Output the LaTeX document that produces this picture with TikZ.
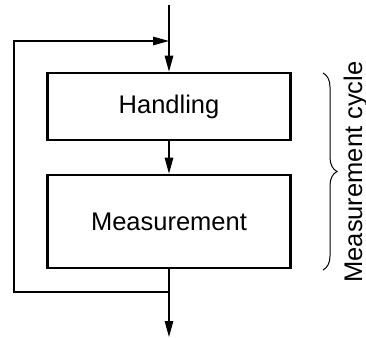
\documentclass[tikz,border=0pt]{standalone}
\usepackage{fontspec}
\setmainfont{Liberation Sans}
\usetikzlibrary{arrows.meta,decorations.pathreplacing}
\begin{document}
\begin{tikzpicture}[x=1pt,y=-1pt,
  procbox/.style={draw=black,line width=2.6pt,minimum width=243pt,inner sep=0pt,font=\fontsize{25.5}{30}\selectfont},
  conn/.style={draw=black,line width=1.3pt},
  arr/.style={conn,-{Triangle[length=16pt,width=8.5pt]}},
  lbl/.style={font=\fontsize{25.5}{30}\selectfont}]
\useasboundingbox (0,0) rectangle (366,337);
\node[procbox,minimum height=67pt] (h) at (169,106.5) {Handling};
\node[procbox,minimum height=93pt] (m) at (169,221.5) {Measurement};
\coordinate (top) at (169,5);
\coordinate (jin) at (169,41);
\coordinate (jout) at (169,292);
\coordinate (cl) at (14,292);
\coordinate (bot) at (169,337);
\draw[conn] (top) -- (jin);
\draw[arr] (jin) -- (h.north);
\draw[arr] (h.south) -- (m.north);
\draw[arr] (m.south) -- (bot);
\draw[arr] (jout) -- (cl) |- (jin);
\coordinate (b1) at (323,73);
\coordinate (b2) at (323,270);
\draw[line width=1pt,decorate,decoration={brace,amplitude=14pt}] (b1) -- (b2);
\node[lbl,rotate=90,anchor=base] (cyc) at (362,172) {Measurement cycle};
\end{tikzpicture}
\end{document}
